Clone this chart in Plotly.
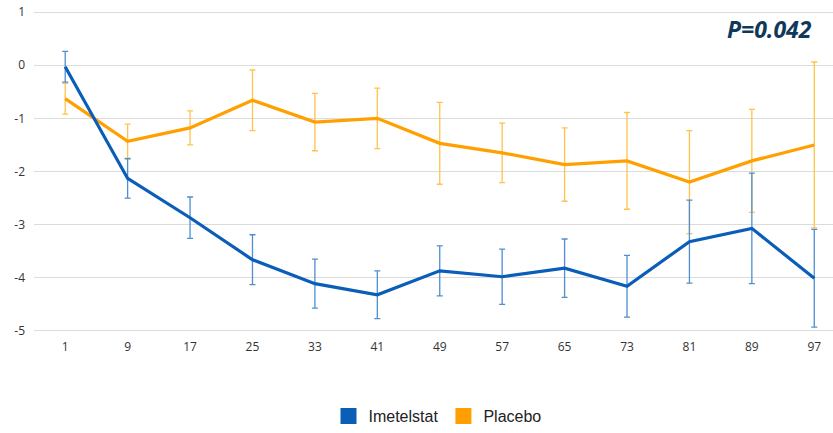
import plotly.graph_objects as go

weeks = ["1", "9", "17", "25", "33", "41", "49", "57", "65", "73", "81", "89", "97"]
imetelstat = [-0.03, -2.13, -2.87, -3.66, -4.11, -4.32, -3.87, -3.98, -3.82, -4.16, -3.32, -3.07, -4.01]
imetelstat_err = [0.29, 0.37, 0.39, 0.47, 0.46, 0.45, 0.47, 0.52, 0.55, 0.58, 0.78, 1.04, 0.92]
placebo = [-0.63, -1.43, -1.18, -0.66, -1.07, -1.00, -1.47, -1.65, -1.87, -1.80, -2.20, -1.80, -1.50]
placebo_err = [0.29, 0.32, 0.32, 0.57, 0.54, 0.57, 0.77, 0.56, 0.69, 0.91, 0.97, 0.97, 1.56]
y_ticks = [1, 0, -1, -2, -3, -4, -5]
y_tick_labels = ["1", "0", "-1", "-2", "-3", "-4", "-5"]
p_text = "P=0.042"

BLUE = "#0A5EB8"
BLUE_ERR = "#4F8FD0"
ORANGE = "#FFA000"
ORANGE_ERR = "#FFC24D"

fig = go.Figure()
fig.add_trace(go.Scatter(
    x=weeks, y=placebo, mode="lines", line=dict(color=ORANGE, width=3.2),
    error_y=dict(type="data", array=placebo_err, color=ORANGE_ERR, thickness=1.3, width=3),
    showlegend=False, cliponaxis=False))
fig.add_trace(go.Scatter(
    x=weeks, y=imetelstat, mode="lines", line=dict(color=BLUE, width=3.2),
    error_y=dict(type="data", array=imetelstat_err, color=BLUE_ERR, thickness=1.3, width=3),
    showlegend=False, cliponaxis=False))
fig.add_trace(go.Scatter(x=[None], y=[None], mode="markers", name="Imetelstat",
                         marker=dict(symbol="square", size=20, color=BLUE)))
fig.add_trace(go.Scatter(x=[None], y=[None], mode="markers", name="Placebo",
                         marker=dict(symbol="square", size=20, color=ORANGE)))

fig.update_layout(
    width=833, height=433,
    margin=dict(l=34, r=0, t=11, b=100),
    paper_bgcolor="white", plot_bgcolor="white",
    font=dict(family="Open Sans", color="#595959", size=12),
    showlegend=True,
    legend=dict(orientation="h", x=0.505, xanchor="center", y=-0.262, yanchor="middle",
                font=dict(family="Liberation Sans", size=16, color="#222222"),
                itemwidth=30, itemsizing="trace", tracegroupgap=0),
    xaxis=dict(type="category", range=[-0.5, 12.3], showgrid=False, showline=False,
               zeroline=False, ticks="", tickfont=dict(size=12, color="#333333"),
               ticklabelstandoff=6),
    yaxis=dict(range=[-5.02, 1.02], tickvals=y_ticks, ticktext=y_tick_labels,
               showgrid=True, gridcolor="#DCDCDC",
               gridwidth=1, zeroline=False, showline=False, ticks="",
               tickfont=dict(size=12, color="#333333"), ticklabelstandoff=8),
    annotations=[dict(text="<b><i>" + p_text + "</i></b>", xref="paper", yref="paper",
                      x=0.976, y=0.945, xanchor="right", yanchor="middle", showarrow=False,
                      font=dict(family="Open Sans", size=23, color="#10385A"))],
)

fig.write_html("out.html")
